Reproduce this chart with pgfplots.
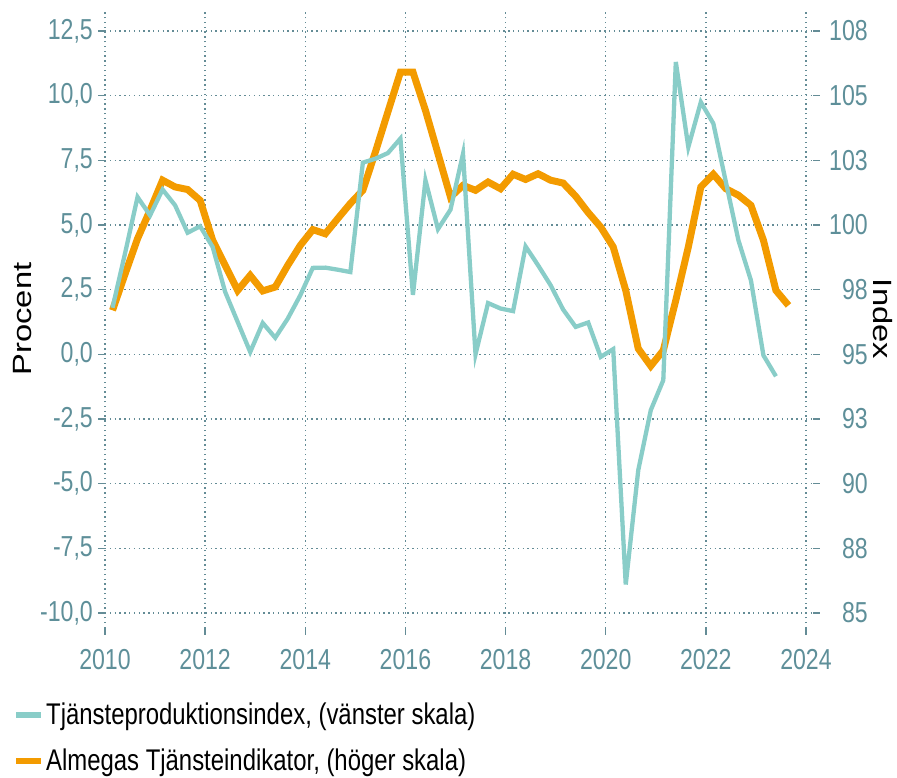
\documentclass[border=0pt]{standalone}
\usepackage{fontspec}
\usepackage{graphicx}
\usepackage{pgfplots}
\pgfplotsset{compat=1.18}
\setmainfont[FakeStretch=0.8]{Liberation Sans}
\newfontfamily\labelfont{Liberation Sans}
\definecolor{tealline}{RGB}{137,205,200}
\definecolor{orangeline}{RGB}{243,155,0}
\definecolor{tickc}{RGB}{94,143,153}
\definecolor{gridc}{RGB}{100,140,150}
\begin{document}
\begin{tikzpicture}
\useasboundingbox (0,0) rectangle (897bp,778bp);
% right axis (orange) with grid and x ticks
\begin{axis}[
  at={(105bp,150bp)}, anchor=south west,
  scale only axis, width=708bp, height=618bp,
  xmin=2010, xmax=2024.14, ymin=84.42, ymax=108.31,
  axis line style={draw=none},
  tick align=outside, major tick length=7bp,
  tick style={color=gridc, line width=1.3bp},
  xtick pos=bottom, ytick pos=right, yticklabel pos=right,
  xtick={2010,2012,...,2024},
  xticklabels={2010,2012,2014,2016,2018,2020,2022,2024},
  ytick={85,87.5,90,92.5,95,97.5,100,102.5,105,107.5},
  yticklabels={85,88,90,93,95,98,100,103,105,108},
  ticklabel style={font=\fontsize{29}{34}\selectfont, color=tickc, inner sep=0pt},
  xticklabel style={anchor=north, yshift=-14bp},
  yticklabel style={anchor=east, xshift=48bp},
  grid=major,
  major grid style={color=gridc, line width=1.4bp, dash pattern=on 1.4bp off 3.4bp},
  ylabel={\scalebox{1.24}[1]{\labelfont\fontsize{26.5}{30}\selectfont Index}},
  ylabel style={at={(axis description cs:1.099,0.5)}, anchor=center, rotate=180},
]
\addplot[orangeline, line width=7bp] table[x=x, y=y] {
x y
2010.15 96.70
2010.40 98.10
2010.65 99.47
2010.90 100.57
2011.15 101.73
2011.40 101.47
2011.65 101.37
2011.90 100.95
2012.15 99.41
2012.40 98.44
2012.65 97.47
2012.90 98.05
2013.15 97.45
2013.40 97.60
2013.65 98.44
2013.90 99.21
2014.15 99.82
2014.40 99.66
2014.65 100.25
2014.90 100.83
2015.15 101.34
2015.40 102.82
2015.65 104.37
2015.90 105.91
2016.15 105.91
2016.40 104.43
2016.65 102.76
2016.90 101.08
2017.15 101.53
2017.40 101.34
2017.65 101.66
2017.90 101.40
2018.15 101.96
2018.40 101.76
2018.65 101.98
2018.90 101.73
2019.15 101.62
2019.40 101.11
2019.65 100.48
2019.90 99.92
2020.15 99.15
2020.40 97.47
2020.65 95.22
2020.90 94.55
2021.15 95.15
2021.40 97.09
2021.65 99.15
2021.90 101.47
2022.15 101.96
2022.40 101.40
2022.65 101.15
2022.90 100.76
2023.15 99.41
2023.40 97.47
2023.65 96.89
};
\end{axis}
% left axis (teal)
\begin{axis}[
  at={(105bp,150bp)}, anchor=south west,
  scale only axis, width=708bp, height=618bp,
  xmin=2010, xmax=2024.14, ymin=-10.58, ymax=13.31,
  axis line style={draw=none},
  tick align=outside, major tick length=7bp,
  tick style={color=gridc, line width=1.3bp},
  xtick=\empty, ytick pos=left,
  ytick={-10,-7.5,-5,-2.5,0,2.5,5,7.5,10,12.5},
  yticklabels={{-10,0},{-7,5},{-5,0},{-2,5},{0,0},{2,5},{5,0},{7,5},{10,0},{12,5}},
  ticklabel style={font=\fontsize{29}{34}\selectfont, color=tickc, inner sep=0pt},
  yticklabel style={anchor=east, xshift=-5bp},
  ylabel={\scalebox{1.24}[1]{\labelfont\fontsize{26.5}{30}\selectfont Procent}},
  ylabel style={at={(axis description cs:-0.1158,0.5)}, anchor=center},
  legend style={at={(axis description cs:-0.13,-0.118)}, anchor=north west,
    draw=none, fill=none, font=\fontsize{30}{34}\selectfont, row sep=19bp,
    inner sep=0pt},
  legend cell align=left,
  legend image code/.code={\draw[#1, line width=6bp] (0bp,0bp) -- (25bp,0bp);},
]
\addplot[tealline, line width=4.3bp] table[x=x, y=y] {
x y
2010.15 1.80
2010.40 3.90
2010.65 6.08
2010.90 5.37
2011.15 6.37
2011.40 5.76
2011.65 4.70
2011.90 4.95
2012.15 4.15
2012.40 2.41
2012.65 1.25
2012.90 0.09
2013.15 1.21
2013.40 0.64
2013.65 1.38
2013.90 2.28
2014.15 3.34
2014.40 3.35
2014.65 3.27
2014.90 3.18
2015.15 7.41
2015.40 7.56
2015.65 7.78
2015.90 8.34
2016.15 2.30
2016.40 6.73
2016.65 4.84
2016.90 5.59
2017.15 7.75
2017.40 0.00
2017.65 1.98
2017.90 1.77
2018.15 1.67
2018.40 4.17
2018.65 3.44
2018.90 2.67
2019.15 1.73
2019.40 1.06
2019.65 1.23
2019.90 -0.10
2020.15 0.20
2020.40 -8.90
2020.65 -4.48
2020.90 -2.16
2021.15 -1.00
2021.40 11.30
2021.65 8.01
2021.90 9.75
2022.15 8.92
2022.40 6.66
2022.65 4.41
2022.90 2.86
2023.15 -0.04
2023.40 -0.85
};
\addlegendentry{Tjänsteproduktionsindex, (vänster skala)}
\addlegendimage{orangeline, line width=7bp}
\addlegendentry{Almegas Tjänsteindikator, (höger skala)}
\end{axis}
\end{tikzpicture}
\end{document}
